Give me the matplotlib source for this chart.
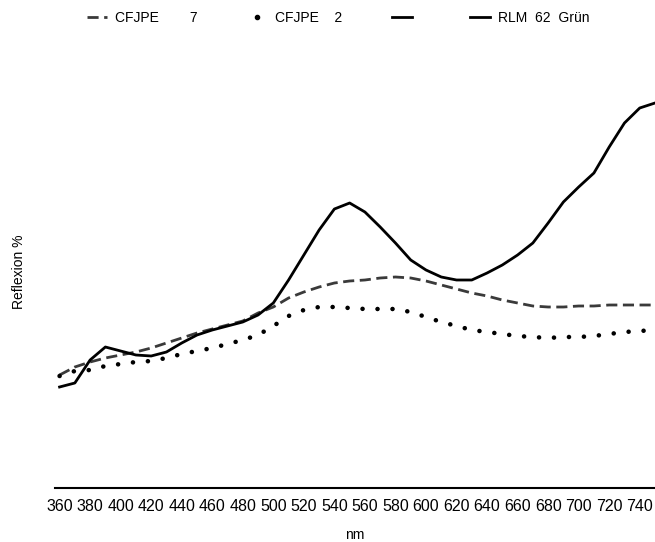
import matplotlib
matplotlib.use("Agg")
import matplotlib.pyplot as plt
from matplotlib.lines import Line2D
import numpy as np

matplotlib.rcParams["font.family"] = ["Liberation Sans", "DejaVu Sans"]

wavelength = list(range(360, 751, 10))

# RLM 62 Grün (solid)
rlm62 = [10.1, 10.5, 12.8, 14.1, 13.7, 13.3, 13.2, 13.6, 14.5, 15.3,
         15.8, 16.2, 16.6, 17.3, 18.5, 20.8, 23.3, 25.8, 27.9, 28.5,
         27.6, 26.1, 24.5, 22.8, 21.8, 21.1, 20.8, 20.8, 21.5, 22.3,
         23.3, 24.5, 26.5, 28.6, 30.1, 31.5, 34.1, 36.5, 38.0, 38.5]

# CFJPE 7 (dashed)
cfjpe7 = [11.3, 12.1, 12.6, 13.0, 13.3, 13.6, 14.0, 14.5, 15.0, 15.5,
          15.9, 16.3, 16.7, 17.5, 18.1, 19.0, 19.6, 20.1, 20.5, 20.7,
          20.8, 21.0, 21.1, 21.0, 20.7, 20.3, 19.9, 19.5, 19.2, 18.8,
          18.5, 18.2, 18.1, 18.1, 18.2, 18.2, 18.3, 18.3, 18.3, 18.3]

# CFJPE 2 (dotted)
cfjpe2 = [11.2, 11.7, 11.8, 12.2, 12.4, 12.6, 12.7, 13.0, 13.4, 13.7,
          14.0, 14.4, 14.8, 15.3, 16.2, 17.2, 17.8, 18.1, 18.1, 18.0,
          17.9, 17.9, 17.9, 17.6, 17.1, 16.6, 16.2, 15.8, 15.6, 15.4,
          15.2, 15.1, 15.0, 15.1, 15.1, 15.2, 15.4, 15.6, 15.7, 15.8]

x_ticks = list(range(360, 741, 20))
legend_labels = ["CFJPE        7", "CFJPE    2", "", "RLM  62  Grün"]

fig = plt.figure(figsize=(6.55, 5.42), dpi=100)
ax = fig.add_axes([55 / 655, 1 - 488 / 542, 600 / 655, (488 - 55) / 542])

dash_style = dict(color="#3a3a3a", lw=2.0, linestyle=(0, (4.0, 2.0)))
dot_style = dict(color="black", lw=3.3, linestyle=(0, (0.01, 3.26)),
                 dash_capstyle="round")
solid_style = dict(color="black", lw=2.0)

ax.plot(wavelength, cfjpe7, **dash_style)
ax.plot(wavelength, cfjpe2, **dot_style)
ax.plot(wavelength, rlm62, **solid_style)

ax.set_xlim(357, 750)
ax.set_ylim(0, 43.3)
ax.set_xticks(x_ticks)
ax.tick_params(axis="x", length=0, pad=8, labelsize=11.5)
ax.set_yticks([])
for s in ["left", "right", "top"]:
    ax.spines[s].set_visible(False)
ax.spines["bottom"].set_linewidth(1.5)

ax.set_xlabel("nm", fontsize=10, labelpad=10)
ax.set_ylabel("Reflexion %", fontsize=10, labelpad=21)

handles = [
    Line2D([], [], **dash_style),
    Line2D([], [], color="black", marker="o", markersize=3, linestyle="none"),
    Line2D([], [], **solid_style),
    Line2D([], [], **solid_style),
]
fig.legend(handles, legend_labels, loc="center", ncol=4,
           bbox_to_anchor=(338 / 655, 1 - 18 / 542), frameon=False,
           fontsize=10, handlelength=1.45, handletextpad=0.55,
           columnspacing=3.6)

fig.savefig("out.png", dpi=100)
